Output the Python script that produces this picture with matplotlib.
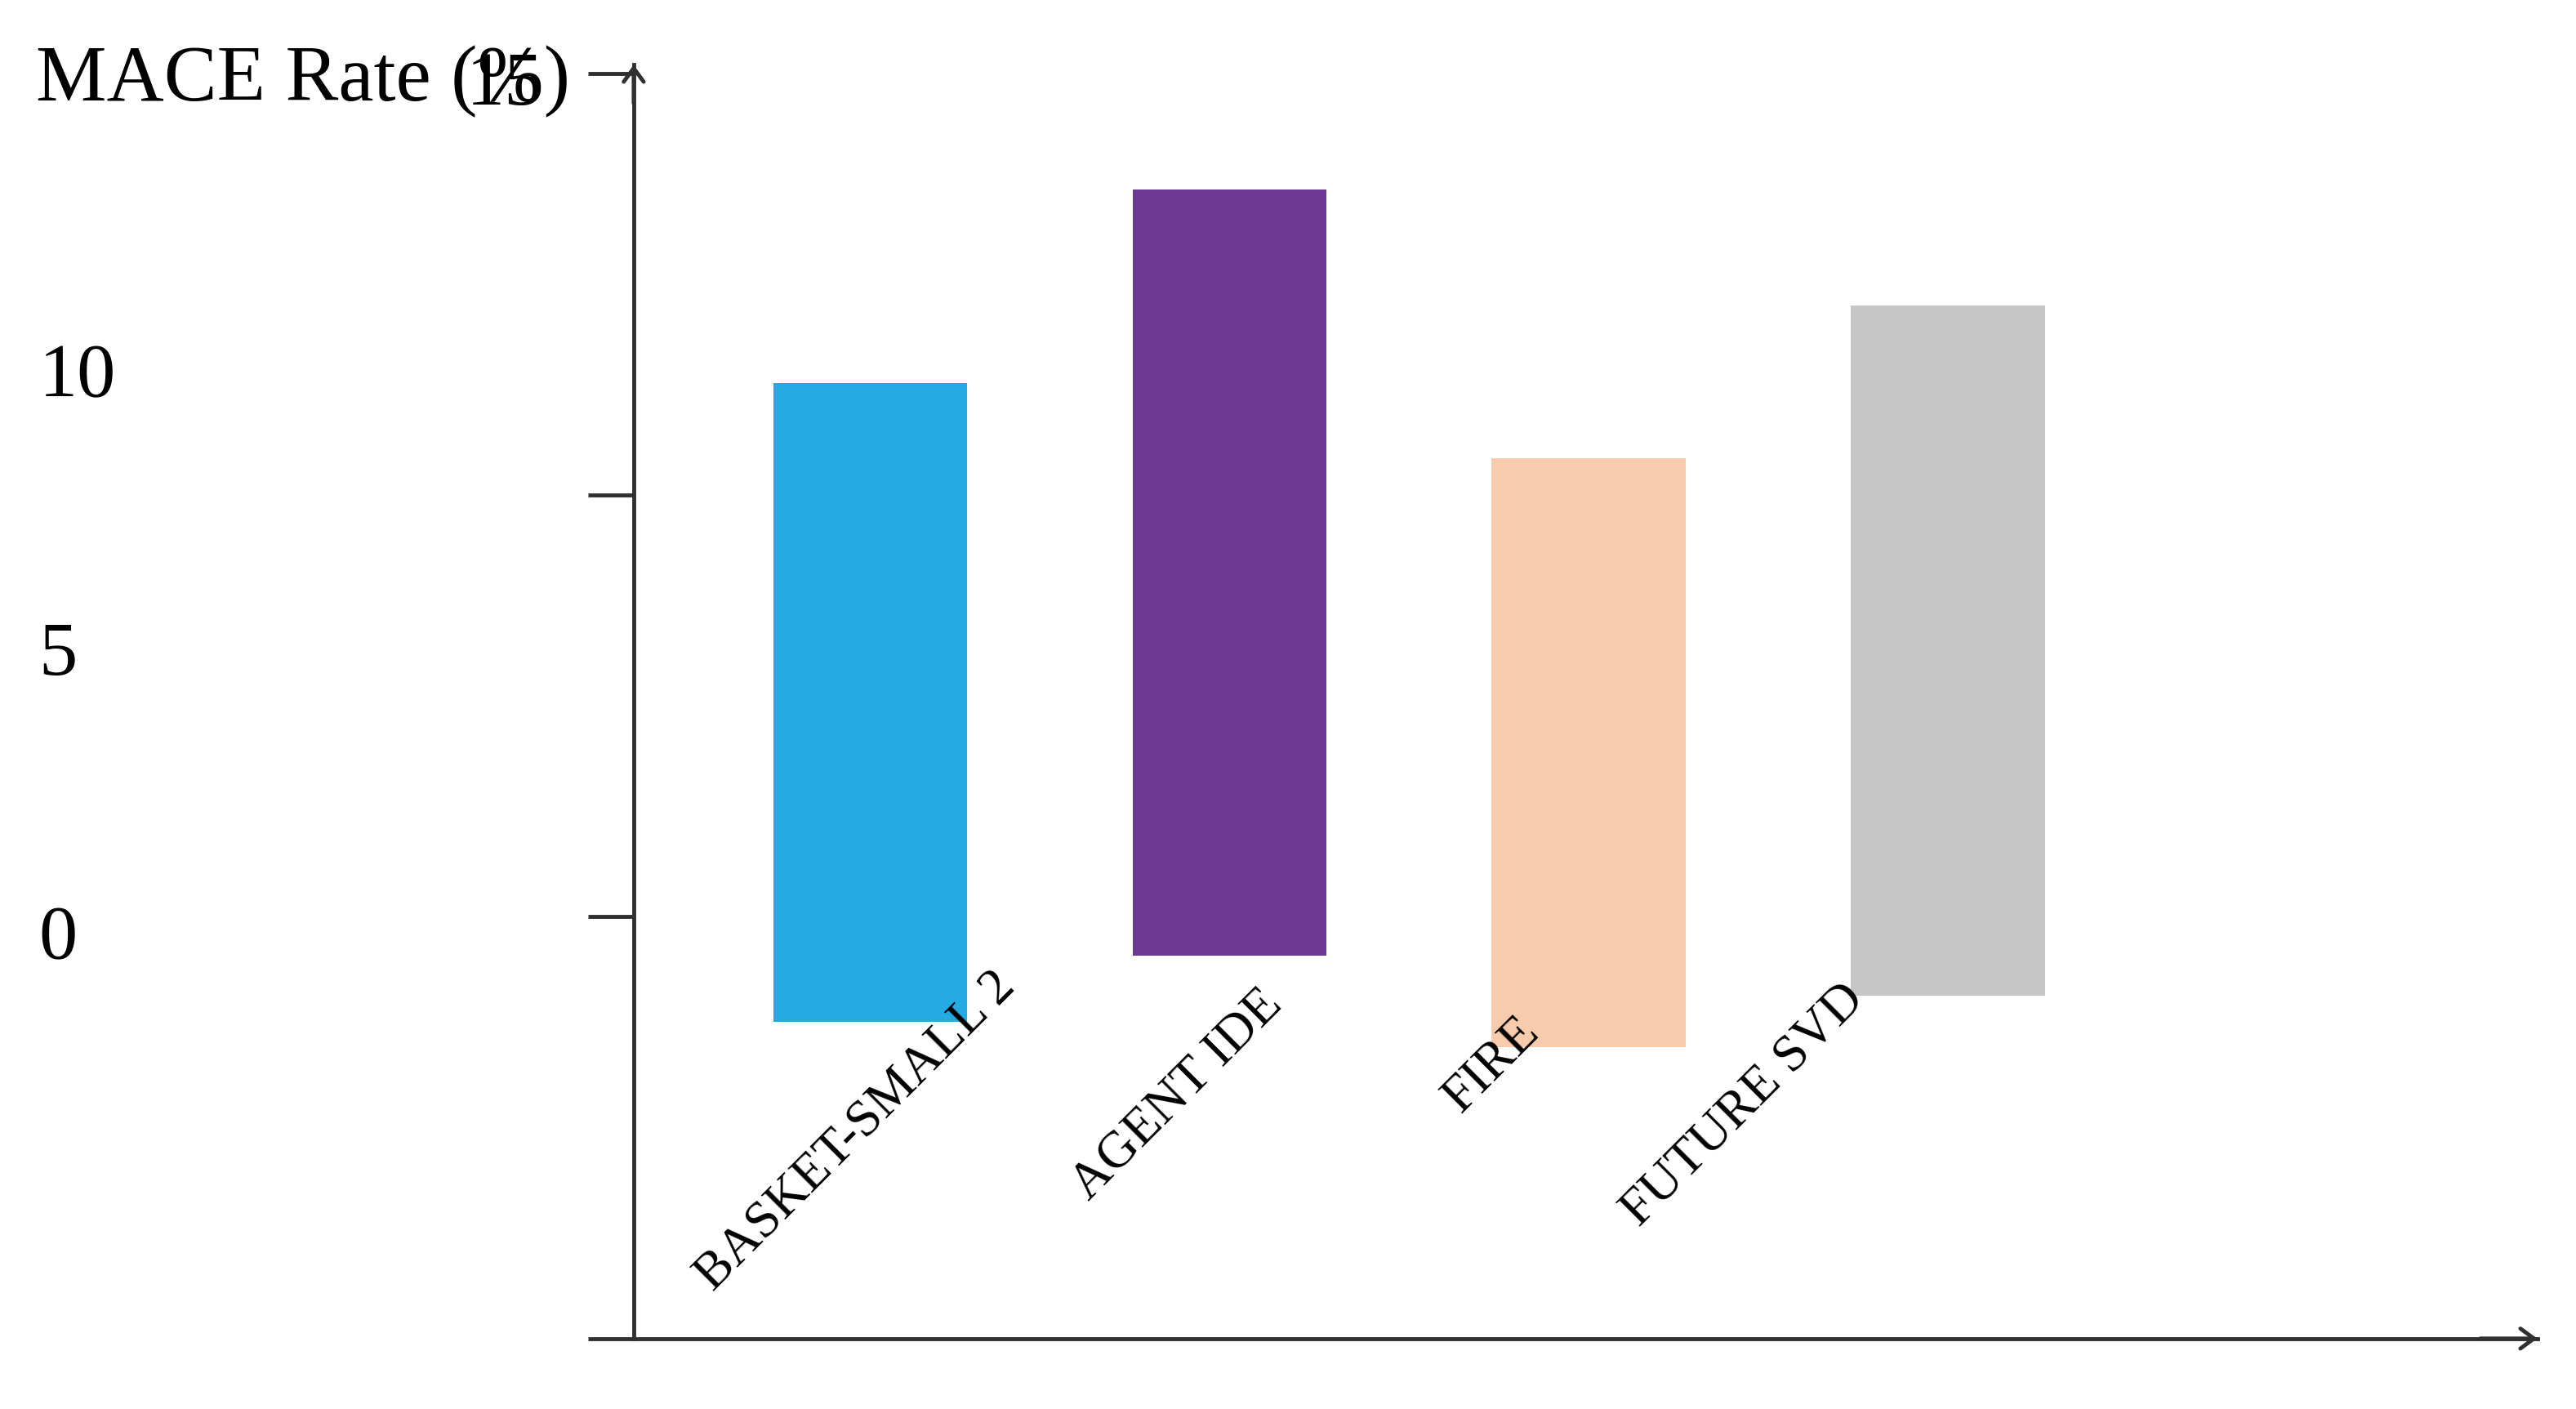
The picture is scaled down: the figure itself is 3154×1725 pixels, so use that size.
# -*- coding: utf-8 -*-
"""Floating bar chart of MACE rate per dataset."""
import matplotlib
matplotlib.use("Agg")
import matplotlib.pyplot as plt
import matplotlib.transforms as mtransforms

categories = ["BASKET-SMALL 2", "AGENT IDE", "FIRE", "FUTURE SVD"]
bar_low = [3.75, 4.54, 3.45, 4.06]
bar_high = [11.33, 13.62, 10.44, 12.25]
bar_colors = ["#25ABE2", "#6E3990", "#F8CBAD", "#C6C6C6"]

y_ticks = [0, 5, 10, 15]
y_tick_text = ["0", "5", "10", "15"]

# where the tick texts sit (they are not aligned with the tick marks)
tick_text_y = [4.72, 8.09, 11.39, 14.85]
tick_text_x = [0.015, 0.015, 0.015, 0.181]

# centre of each rotated category label
cat_label_x = [-0.04, 0.855, 1.73, 2.43]
cat_label_y = [2.46, 2.89, 3.24, 2.76]

axis_color = "#303030"
plt.rcParams["font.family"] = ["Liberation Serif", "DejaVu Serif"]

fig = plt.figure(figsize=(31.54, 17.25), dpi=100)
ax = fig.add_axes([0.246, 0.050, 0.739, 0.904])

x = list(range(len(categories)))
heights = [h - l for h, l in zip(bar_high, bar_low)]
ax.bar(x, heights, bottom=bar_low, width=0.54, color=bar_colors)

ax.set_xlim(-0.658, 4.64)
ax.set_ylim(0, 15.1)

for side in ["top", "right"]:
    ax.spines[side].set_visible(False)
for side in ["left", "bottom"]:
    ax.spines[side].set_color(axis_color)
    ax.spines[side].set_linewidth(3.5)

ax.set_xticks([])
ax.set_yticks(y_ticks)
ax.tick_params(axis="y", direction="out", length=40, width=3.5,
               color=axis_color, labelleft=False)

# arrow heads on both axes
head = "->,head_length=0.3,head_width=0.22"
ax.annotate("", xy=(1.0, 0), xytext=(0.97, 0), xycoords="axes fraction",
            arrowprops=dict(arrowstyle=head, lw=3.5, color=axis_color,
                            mutation_scale=40, shrinkA=0, shrinkB=0))
ax.annotate("", xy=(0, 1.0), xytext=(0, 0.97), xycoords="axes fraction",
            arrowprops=dict(arrowstyle=head, lw=3.5, color=axis_color,
                            mutation_scale=40, shrinkA=0, shrinkB=0))

# y tick texts
trans = mtransforms.blended_transform_factory(fig.transFigure, ax.transData)
for tx, ty, txt in zip(tick_text_x, tick_text_y, y_tick_text):
    ax.text(tx, ty, txt, transform=trans, fontsize=68, ha="left",
            va="center", color="black")

fig.text(0.014, 0.942, "MACE Rate (%)", fontsize=70, ha="left",
         va="center", color="black")

# rotated category labels
for lx, ly, name in zip(cat_label_x, cat_label_y, categories):
    ax.text(lx, ly, name, rotation=45, rotation_mode="anchor",
            ha="center", va="center", fontsize=46, color="black")

fig.savefig("out.png", dpi=100)
